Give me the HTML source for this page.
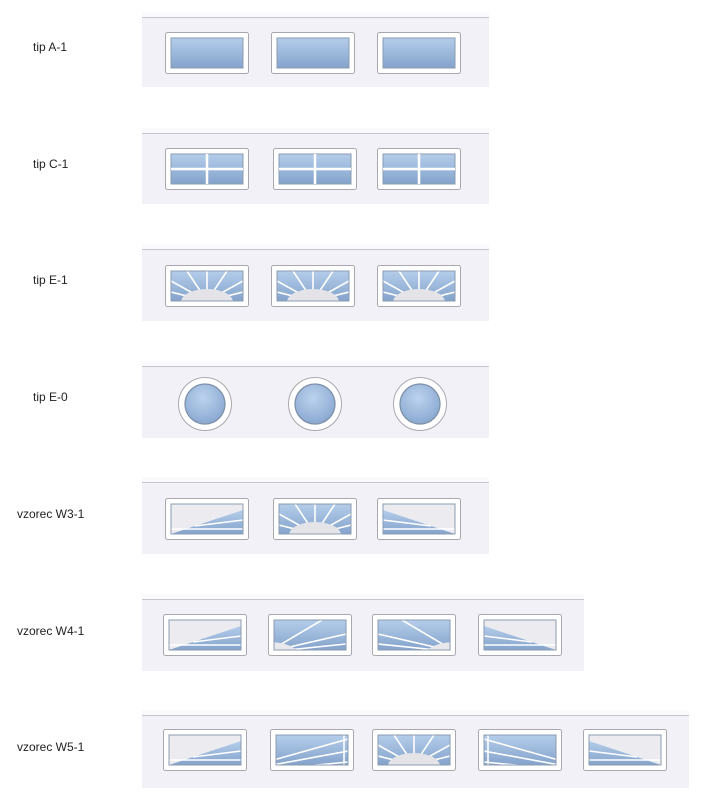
<!DOCTYPE html>
<html><head><meta charset="utf-8"><style>
html,body{margin:0;padding:0;background:#fff;width:711px;height:800px;overflow:hidden}
.lbl{position:absolute;font-family:"Liberation Sans",Arial,sans-serif;font-size:12px;color:#222}
svg{position:absolute;left:0;top:0}
</style></head><body>
<div class="lbl" style="left:33px;top:40px">tip A-1</div>
<div class="lbl" style="left:33px;top:157px">tip C-1</div>
<div class="lbl" style="left:33px;top:273px">tip E-1</div>
<div class="lbl" style="left:33px;top:390px">tip E-0</div>
<div class="lbl" style="left:17px;top:507px">vzorec W3-1</div>
<div class="lbl" style="left:17px;top:624px">vzorec W4-1</div>
<div class="lbl" style="left:17px;top:740px">vzorec W5-1</div>
<svg width="711" height="800" viewBox="0 0 711 800">
<defs>
<linearGradient id="g" x1="0" y1="0" x2="0" y2="1"><stop offset="0" stop-color="#b4cdea"/><stop offset="1" stop-color="#84a3cc"/></linearGradient>
<linearGradient id="gd" x1="0" y1="0" x2="0" y2="1"><stop offset="0" stop-color="#a3bcdc"/><stop offset="1" stop-color="#7590b8"/></linearGradient>
<radialGradient id="gc" cx="0.45" cy="0.35" r="0.7"><stop offset="0" stop-color="#bcd3ee"/><stop offset="1" stop-color="#86a5cf"/></radialGradient>
<clipPath id="cl"><rect x="6" y="6" width="72" height="30"/></clipPath>
<symbol id="fr" viewBox="0 0 84 42"><rect x="0.5" y="0.5" width="83" height="41" rx="2" fill="#fff" stroke="#a8a8ae"/></symbol>
<symbol id="A" viewBox="0 0 84 42"><use href="#fr" width="84" height="42"/><rect x="6" y="6" width="72" height="30" fill="url(#g)" stroke="#8b9bb0"/></symbol>
<symbol id="C" viewBox="0 0 84 42"><use href="#fr" width="84" height="42"/><rect x="6" y="6" width="72" height="30" fill="url(#g)" stroke="#8b9bb0"/><path d="M6 21H78M42 6V36" stroke="#fff" stroke-width="2.5"/></symbol>
<symbol id="E" viewBox="0 0 84 42"><use href="#fr" width="84" height="42"/><rect x="6" y="6" width="72" height="30" fill="url(#g)"/><g clip-path="url(#cl)" stroke="#fff" stroke-width="1.6"><path d="M42 36L6 16M42 36L22 6M42 36V6M42 36L62 6M42 36L78 16M42 36L6 27M42 36L78 27"/><ellipse cx="42" cy="37" rx="26" ry="13" fill="#e4e4e8" stroke="none"/></g><rect x="6" y="6" width="72" height="30" fill="none" stroke="#8b9bb0"/></symbol>
<symbol id="WL" viewBox="0 0 84 42"><use href="#fr" width="84" height="42"/><rect x="6" y="6" width="72" height="30" fill="#ececf0"/><g clip-path="url(#cl)"><polygon points="6,36 78,12 78,36" fill="url(#g)"/><path d="M30 28L78 22M6 31L78 31" stroke="#fff" stroke-width="1.5"/></g><rect x="6" y="6" width="72" height="30" fill="none" stroke="#8b9bb0"/></symbol>
<symbol id="WR" viewBox="0 0 84 42"><g transform="translate(84 0) scale(-1 1)"><use href="#WL" width="84" height="42"/></g></symbol>
<symbol id="SL" viewBox="0 0 84 42"><use href="#fr" width="84" height="42"/><rect x="6" y="6" width="72" height="30" fill="url(#g)"/><g clip-path="url(#cl)" stroke="#fff" stroke-width="1.6"><path d="M84 38L30 6M84 38L6 20M84 38L6 30"/><ellipse cx="84" cy="40" rx="30" ry="12" fill="#e8e8ec" stroke="none"/></g><rect x="6" y="6" width="72" height="30" fill="none" stroke="#8b9bb0"/></symbol>
<symbol id="SR" viewBox="0 0 84 42"><g transform="translate(84 0) scale(-1 1)"><use href="#SL" width="84" height="42"/></g></symbol>
<symbol id="ML" viewBox="0 0 84 42"><use href="#fr" width="84" height="42"/><rect x="6" y="6" width="72" height="30" fill="url(#g)"/><g clip-path="url(#cl)" stroke="#fff" stroke-width="1.6"><path d="M130 45L6 10M130 45L6 22M130 45L6 33M10 6V36"/></g><rect x="6" y="6" width="72" height="30" fill="none" stroke="#8b9bb0"/></symbol>
<symbol id="MR" viewBox="0 0 84 42"><g transform="translate(84 0) scale(-1 1)"><use href="#ML" width="84" height="42"/></g></symbol>
<symbol id="O" viewBox="0 0 56 56"><circle cx="28" cy="28" r="26.5" fill="#fff" stroke="#a8a8ae"/><circle cx="28" cy="28" r="20" fill="url(#gc)" stroke="#7f91aa" stroke-width="1.3"/></symbol>
</defs>
<g id="panels">
<!-- panel helper: bg + top line -->
<rect x="142" y="12" width="347" height="75" fill="#f1f1f7"/><rect x="142" y="12" width="347" height="5" fill="#fafafd"/><line x1="142" y1="17.5" x2="489" y2="17.5" stroke="#c6c6ce"/>
<rect x="142" y="128" width="347" height="76" fill="#f1f1f7"/><rect x="142" y="128" width="347" height="5" fill="#fafafd"/><line x1="142" y1="133.5" x2="489" y2="133.5" stroke="#c6c6ce"/>
<rect x="142" y="244" width="347" height="77" fill="#f1f1f7"/><rect x="142" y="244" width="347" height="5" fill="#fafafd"/><line x1="142" y1="249.5" x2="489" y2="249.5" stroke="#c6c6ce"/>
<rect x="142" y="361" width="347" height="77" fill="#f1f1f7"/><rect x="142" y="361" width="347" height="5" fill="#fafafd"/><line x1="142" y1="366.5" x2="489" y2="366.5" stroke="#c6c6ce"/>
<rect x="142" y="477" width="347" height="77" fill="#f1f1f7"/><rect x="142" y="477" width="347" height="5" fill="#fafafd"/><line x1="142" y1="482.5" x2="489" y2="482.5" stroke="#c6c6ce"/>
<rect x="142" y="594" width="442" height="77" fill="#f1f1f7"/><rect x="142" y="594" width="442" height="5" fill="#fafafd"/><line x1="142" y1="599.5" x2="584" y2="599.5" stroke="#c6c6ce"/>
<rect x="142" y="710" width="547" height="78" fill="#f1f1f7"/><rect x="142" y="710" width="547" height="5" fill="#fafafd"/><line x1="142" y1="715.5" x2="689" y2="715.5" stroke="#c6c6ce"/>
</g>
<use href="#A" x="165" y="32" width="84" height="42"/>
<use href="#A" x="271" y="32" width="84" height="42"/>
<use href="#A" x="377" y="32" width="84" height="42"/>
<use href="#C" x="165" y="148" width="84" height="42"/>
<use href="#C" x="273" y="148" width="84" height="42"/>
<use href="#C" x="377" y="148" width="84" height="42"/>
<use href="#E" x="165" y="265" width="84" height="42"/>
<use href="#E" x="271" y="265" width="84" height="42"/>
<use href="#E" x="377" y="265" width="84" height="42"/>
<use href="#O" x="177" y="376" width="56" height="56"/>
<use href="#O" x="287" y="376" width="56" height="56"/>
<use href="#O" x="392" y="376" width="56" height="56"/>
<use href="#WL" x="165" y="498" width="84" height="42"/>
<use href="#E" x="273" y="498" width="84" height="42"/>
<use href="#WR" x="377" y="498" width="84" height="42"/>
<use href="#WL" x="163" y="614" width="84" height="42"/>
<use href="#SR" x="268" y="614" width="84" height="42"/>
<use href="#SL" x="372" y="614" width="84" height="42"/>
<use href="#WR" x="478" y="614" width="84" height="42"/>
<use href="#WL" x="163" y="729" width="84" height="42"/>
<use href="#MR" x="270" y="729" width="84" height="42"/>
<use href="#E" x="372" y="729" width="84" height="42"/>
<use href="#ML" x="478" y="729" width="84" height="42"/>
<use href="#WR" x="583" y="729" width="84" height="42"/>
</svg>
</body></html>
